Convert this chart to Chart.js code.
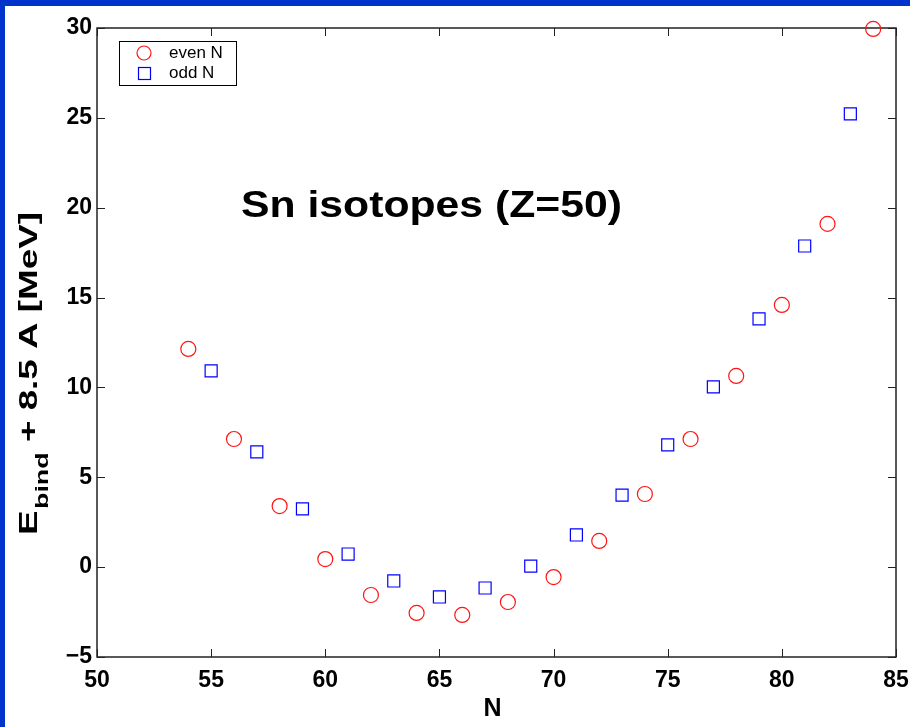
<!DOCTYPE html>
<html>
<head>
<meta charset="utf-8">
<script src="https://cdn.jsdelivr.net/npm/chart.js@4.4.1/dist/chart.umd.min.js"></script>
<style>
html,body{margin:0;padding:0;background:#fff;}
canvas{display:block;}
</style>
</head>
<body>
<canvas id="c" width="910" height="727"></canvas>
<script>
// ---- data ----
const evenN = [54, 56, 58, 60, 62, 64, 66, 68, 70, 72, 74, 76, 78, 80, 82, 84];
const evenE = [12.14, 7.13, 3.40, 0.45, -1.55, -2.55, -2.66, -1.94, -0.55, 1.46, 4.07, 7.13, 10.64, 14.59, 19.10, 29.95];
const oddN = [55, 57, 59, 61, 63, 65, 67, 69, 71, 73, 75, 77, 79, 81, 83];
const oddE = [10.92, 6.41, 3.24, 0.73, -0.77, -1.66, -1.16, 0.06, 1.79, 4.01, 6.80, 10.03, 13.81, 17.87, 25.22];
const xTicks = [50, 55, 60, 65, 70, 75, 80, 85];
const yTicks = [-5, 0, 5, 10, 15, 20, 25, 30];
const seriesLabels = ['even N', 'odd N'];
const titleText = 'Sn isotopes (Z=50)';
const xLabel = 'N';
const yLabelMain = 'E';
const yLabelSub = 'bind';
const yLabelRest = ' + 8.5 A [MeV]';

const FONT = '"Liberation Sans", Arial, Helvetica, sans-serif';
const RED = 'rgb(255,20,20)';
const BLUE = 'rgb(0,0,255)';

const toPts = (xs, ys) => xs.map((x, i) => ({x: x, y: ys[i]}));

const decor = {
  id: 'decor',
  beforeDraw(chart) {
    const ctx = chart.ctx;
    ctx.save();
    ctx.fillStyle = '#fff';
    ctx.fillRect(0, 0, chart.width, chart.height);
    ctx.fillStyle = '#0033cc';
    ctx.fillRect(0, 0, chart.width, 6);
    ctx.fillRect(0, 0, 5, chart.height);
    ctx.restore();
  },
  beforeDatasetsDraw(chart) {
    const ctx = chart.ctx;
    const a = chart.chartArea;
    const xs = chart.scales.x, ys = chart.scales.y;
    ctx.save();
    ctx.strokeStyle = '#222';
    ctx.lineWidth = 1.5;
    ctx.strokeRect(a.left, a.top, a.right - a.left, a.bottom - a.top);
    ctx.lineWidth = 1;
    const L = 8;
    ctx.beginPath();
    xTicks.forEach(v => {
      const px = Math.round(xs.getPixelForValue(v)) + 0.5;
      ctx.moveTo(px, a.bottom); ctx.lineTo(px, a.bottom - L);
      ctx.moveTo(px, a.top); ctx.lineTo(px, a.top + L);
    });
    yTicks.forEach(v => {
      const py = Math.round(ys.getPixelForValue(v)) + 0.5;
      ctx.moveTo(a.left, py); ctx.lineTo(a.left + L, py);
      ctx.moveTo(a.right, py); ctx.lineTo(a.right - L, py);
    });
    ctx.stroke();
    ctx.restore();
  },
  afterDraw(chart) {
    const ctx = chart.ctx;
    const a = chart.chartArea;
    ctx.save();
    // title text inside plot
    ctx.fillStyle = '#000';
    ctx.font = 'bold 36px ' + FONT;
    ctx.textBaseline = 'alphabetic';
    ctx.textAlign = 'left';
    const tw = ctx.measureText(titleText).width;
    ctx.save();
    ctx.translate(241, 217);
    ctx.scale(381 / tw, 1);
    ctx.fillText(titleText, 0, 0);
    ctx.restore();

    // x label
    ctx.font = 'bold 25px ' + FONT;
    ctx.textAlign = 'center';
    ctx.textBaseline = 'middle';
    ctx.fillText(xLabel, (a.left + a.right) / 2 - 4, 709);

    // y label with subscript (stretched along its length to match)
    ctx.save();
    ctx.font = 'bold 26px ' + FONT;
    const wE = ctx.measureText(yLabelMain).width;
    const wR = ctx.measureText(yLabelRest).width;
    ctx.font = 'bold 19px ' + FONT;
    const wS = ctx.measureText(yLabelSub).width;
    const total = wE + 1 + wS + wR;
    ctx.translate(37, 535);
    ctx.rotate(-Math.PI / 2);
    ctx.scale(323 / total, 1);
    ctx.textAlign = 'left';
    ctx.textBaseline = 'alphabetic';
    ctx.font = 'bold 26px ' + FONT;
    ctx.fillText(yLabelMain, 0, 0);
    ctx.font = 'bold 19px ' + FONT;
    ctx.fillText(yLabelSub, wE + 1, 11);
    ctx.font = 'bold 26px ' + FONT;
    ctx.fillText(yLabelRest, wE + 1 + wS, 0);
    ctx.restore();

    // legend
    const bx = 119, by = 41, bw = 117, bh = 44;
    ctx.fillStyle = '#fff';
    ctx.fillRect(bx, by, bw, bh);
    ctx.strokeStyle = '#000';
    ctx.lineWidth = 1;
    ctx.strokeRect(bx + 0.5, by + 0.5, bw, bh);
    ctx.lineWidth = 1.2;
    ctx.strokeStyle = RED;
    ctx.beginPath();
    ctx.arc(144, 53, 7, 0, Math.PI * 2);
    ctx.stroke();
    ctx.strokeStyle = BLUE;
    ctx.strokeRect(138.5, 67.5, 12, 12);
    ctx.fillStyle = '#000';
    ctx.font = '17px ' + FONT;
    ctx.textAlign = 'left';
    ctx.textBaseline = 'middle';
    ctx.fillText(seriesLabels[0], 169, 53);
    ctx.fillText(seriesLabels[1], 169, 73);
    ctx.restore();
  }
};

new Chart(document.getElementById('c'), {
  type: 'scatter',
  data: {
    datasets: [
      {
        label: seriesLabels[0],
        data: toPts(evenN, evenE),
        pointStyle: 'circle',
        pointRadius: 7.5,
        borderColor: RED,
        backgroundColor: 'rgba(0,0,0,0)',
        borderWidth: 1.2,
        clip: false
      },
      {
        label: seriesLabels[1],
        data: toPts(oddN, oddE),
        pointStyle: 'rect',
        pointRadius: 8.5,
        borderColor: BLUE,
        backgroundColor: 'rgba(0,0,0,0)',
        borderWidth: 1.2,
        clip: false
      }
    ]
  },
  options: {
    responsive: false,
    devicePixelRatio: 1,
    animation: false,
    events: [],
    layout: {padding: {left: 0, top: 28, right: 14, bottom: 0}},
    plugins: {legend: {display: false}, tooltip: {enabled: false}, title: {display: false}},
    scales: {
      x: {
        type: 'linear', min: 50, max: 85,
        afterBuildTicks: s => { s.ticks = xTicks.map(v => ({value: v})); },
        afterFit: s => { s.height = 70; s.paddingLeft = 0; s.paddingRight = 0; },
        grid: {display: false, drawTicks: false},
        border: {display: false},
        ticks: {
          padding: 10, color: '#000',
          font: {family: FONT, size: 23, weight: 'bold'},
          maxRotation: 0, autoSkip: false,
          callback: v => String(v).replace('-', '\u2212')
        }
      },
      y: {
        type: 'linear', min: -5, max: 30,
        afterBuildTicks: s => { s.ticks = yTicks.map(v => ({value: v})); },
        afterFit: s => { s.width = 97; s.paddingTop = 0; s.paddingBottom = 0; },
        grid: {display: false, drawTicks: false},
        border: {display: false},
        ticks: {
          padding: 5, color: '#000',
          font: {family: FONT, size: 23, weight: 'bold'},
          autoSkip: false,
          callback: v => String(v).replace('-', '\u2212')
        }
      }
    }
  },
  plugins: [decor]
});
</script>
</body>
</html>
